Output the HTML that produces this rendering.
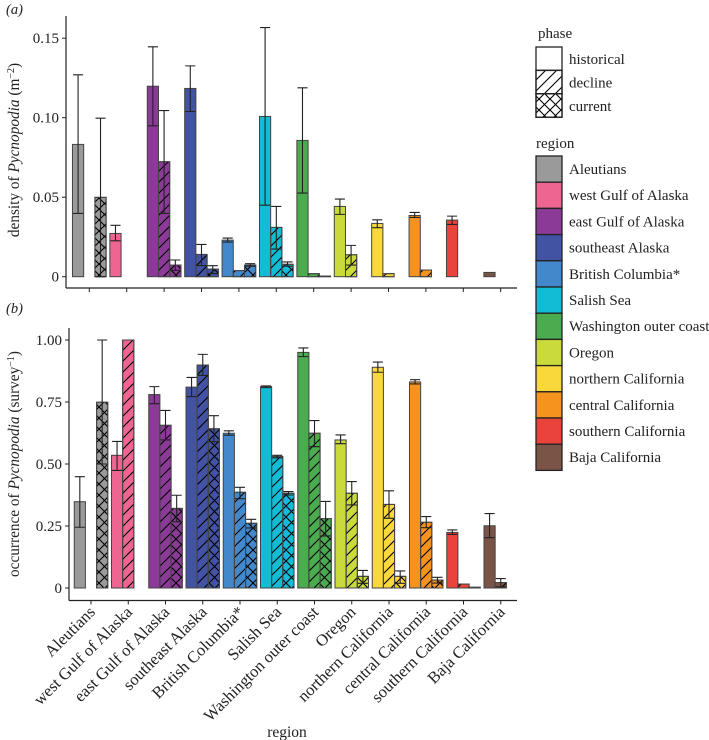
<!DOCTYPE html>
<html><head><meta charset="utf-8"><style>
html,body{margin:0;padding:0;background:#fff;}
svg{display:block;font-family:"Liberation Serif",serif;}
</style></head><body>
<svg id="chart" width="709" height="740" viewBox="0 0 709 740" xmlns="http://www.w3.org/2000/svg">
<defs>
<pattern id="hatchD" patternUnits="userSpaceOnUse" width="11" height="11">
<path d="M-2,13 L13,-2 M-2,2 L2,-2 M9,13 L13,9" stroke="#000" stroke-width="1.1" fill="none"/>
</pattern>
<pattern id="hatchX" patternUnits="userSpaceOnUse" width="11" height="11">
<path d="M-2,13 L13,-2 M-2,2 L2,-2 M9,13 L13,9 M-2,-2 L13,13 M-2,9 L2,13 M9,-2 L13,2" stroke="#000" stroke-width="1.1" fill="none"/>
</pattern>
</defs>
<g id="plot"></g>
</svg>
<script>
const regions=["Aleutians","west Gulf of Alaska","east Gulf of Alaska","southeast Alaska","British Columbia*","Salish Sea","Washington outer coast","Oregon","northern California","central California","southern California","Baja California"];
const colors=["#9a9a9a","#ee6592","#8b3a97","#4253a3","#4388cb","#12bcd4","#4bab4f","#c9da3a","#f9d83b","#f6931f","#e9433b","#7a5547"];
const phases=["historical","decline","current"];
// panel a: density
const densHist=[0.0832,0.0272,0.1198,0.1184,0.023,0.1008,0.0857,0.0442,0.0335,0.0385,0.0356,0.0027];
const densDecl=[null,null,0.0723,0.014,0.0038,0.031,0.0019,0.0138,0.0019,0.0042,0,0];
const densCurr=[0.0499,0,0.0073,0.0048,0.0073,0.0078,0.0004,0,0,0,0,0];
const densHistLo=[0.0398,0.0226,0.0949,0.1039,0.0218,0.045,0.0526,0.0392,0.0308,0.0373,0.0329,null];
const densHistHi=[0.127,0.0323,0.1446,0.1326,0.0243,0.1567,0.1188,0.0488,0.0358,0.0404,0.0381,null];
const densDeclLo=[null,null,0.0398,0.007,null,0.0174,null,0.0073,null,null,null,null];
const densDeclHi=[null,null,0.1045,0.0203,null,0.0442,null,0.0197,null,null,null,null];
const densCurrLo=[0.0,null,0.004,0.002,0.0066,0.0066,null,null,null,null,null,null];
const densCurrHi=[0.0997,null,0.0105,0.0069,0.0082,0.0093,null,null,null,null,null,null];
// panel b: occurrence
const occHist=[0.348,0.535,0.78,0.81,0.624,0.812,0.95,0.597,0.89,0.831,0.224,0.251];
const occDecl=[null,1.0,0.656,0.899,0.386,0.53,0.624,0.382,0.337,0.265,0.016,0.022];
const occCurr=[0.749,0,0.321,0.642,0.261,0.382,0.28,0.047,0.047,0.032,0.003,0];
const occHistLo=[0.245,0.474,0.743,0.772,0.616,0.808,0.933,0.582,0.87,0.823,0.216,0.203];
const occHistHi=[0.449,0.591,0.812,0.849,0.634,0.815,0.968,0.617,0.911,0.84,0.234,0.3];
const occDeclLo=[null,null,0.597,0.857,0.36,0.525,0.57,0.335,0.281,0.243,null,0.005];
const occDeclHi=[null,null,0.716,0.942,0.406,0.535,0.675,0.429,0.392,0.288,null,0.038];
const occCurrLo=[0.5,null,0.267,0.59,0.242,0.375,0.21,0.019,0.019,0.02,null,null];
const occCurrHi=[1.0,null,0.374,0.695,0.277,0.389,0.349,0.071,0.069,0.043,null,null];
const densTicks=[0,0.05,0.10,0.15];
const densTickLabels=["0","0.05","0.10","0.15"];
const occTicks=[0,0.25,0.5,0.75,1.0];
const occTickLabels=["0","0.25","0.50","0.75","1.00"];

const NS="http://www.w3.org/2000/svg";
const root=document.getElementById('plot');
function el(tag,attrs,parent){const e=document.createElementNS(NS,tag);for(const k in attrs)e.setAttribute(k,attrs[k]);(parent||root).appendChild(e);return e;}
const fills=["","url(#hatchD)","url(#hatchX)"];

function panel(cfg){
  const g=el('g',{});
  
  
  const band=cfg.band, bw=band*0.9/3;
  const xc=i=>cfg.x0+i*band;
  const y=v=>cfg.yZero-v*cfg.yScale;
  const ya=el('line',{x1:cfg.axX,x2:cfg.axX,y1:cfg.axTop,y2:cfg.axBot,stroke:'#222','stroke-width':1.2},g);
  
  
  const xa=el('line',{x1:cfg.axX,x2:517,y1:cfg.axBot,y2:cfg.axBot,stroke:'#222','stroke-width':1.2},g);
  
  
  cfg.ticks.forEach((t,k)=>{
    el('line',{x1:cfg.axX-4,x2:cfg.axX,y1:y(t),y2:y(t),stroke:'#222'},g);
    const tx=el('text',{x:cfg.axX-7,y:y(t)+5,'text-anchor':'end','font-size':15,fill:'#222'},g);
    tx.textContent=cfg.tickLabels[k];
    
    
  });
  regions.forEach((r,i)=>{
    el('line',{x1:xc(i),x2:xc(i),y1:cfg.axBot,y2:cfg.axBot+4,stroke:'#222'},g);
    const sets=[[cfg.h,cfg.hLo,cfg.hHi],[cfg.d,cfg.dLo,cfg.dHi],[cfg.c,cfg.cLo,cfg.cHi]];
    sets.forEach((s,p)=>{
      const v=s[0][i]; if(v===null)return;
      const x=xc(i)-1.5*bw+p*bw;
      const bar=el('rect',{x:x,y:y(v),width:bw,height:Math.max(0,y(0)-y(v)),fill:colors[i],stroke:'#444','stroke-width':1},g);
      
      
      if(p>0){const hb=el('rect',{x:x,y:y(v),width:bw,height:Math.max(0,y(0)-y(v)),fill:fills[p],stroke:'#444','stroke-width':1},g);
        
        }
      const lo=s[1][i],hi=s[2][i];
      if(lo!==null&&hi!==null){
        const cx=x+bw/2,cw=bw*0.45;
        const eb=el('path',{d:`M${cx},${y(lo)}L${cx},${y(hi)}M${cx-cw},${y(hi)}L${cx+cw},${y(hi)}M${cx-cw},${y(lo)}L${cx+cw},${y(lo)}`,stroke:'#222','stroke-width':1.1,fill:'none'},g);
        
        
      }
    });
  });
  const lab=el('text',{x:6,y:cfg.labY,'font-size':14.5,'font-style':'italic',fill:'#222'},g);
  lab.textContent='('+cfg.letter+')';
  
  
  const yt=el('text',{transform:`translate(${cfg.titleX},${cfg.titleY}) rotate(-90)`,'text-anchor':'middle','font-size':15.3,fill:'#222'},g);
  yt.innerHTML=cfg.title;
  
  
  return {xc};
}
panel({name:'panel-a-density',letter:'a',labY:14,x0:89.3,band:37.4,yZero:276.7,yScale:1590,axX:66,axTop:16,axBot:288,
  ticks:densTicks,tickLabels:densTickLabels,h:densHist,hLo:densHistLo,hHi:densHistHi,d:densDecl,dLo:densDeclLo,dHi:densDeclHi,c:densCurr,cLo:densCurrLo,cHi:densCurrHi,
  titleX:19,titleY:150,title:'density of <tspan font-style="italic">Pycnopodia</tspan> (m<tspan font-size="10" dy="-5">−2</tspan><tspan dy="5">)</tspan>'});
const pb=panel({name:'panel-b-occurrence',letter:'b',labY:313,x0:91,band:37.25,yZero:588,yScale:248,axX:69,axTop:328,axBot:600.5,
  ticks:occTicks,tickLabels:occTickLabels,h:occHist,hLo:occHistLo,hHi:occHistHi,d:occDecl,dLo:occDeclLo,dHi:occDeclHi,c:occCurr,cLo:occCurrLo,cHi:occCurrHi,
  titleX:19,titleY:464,title:'occurrence of <tspan font-style="italic">Pycnopodia</tspan> (survey<tspan font-size="10" dy="-5">−1</tspan><tspan dy="5">)</tspan>'});
regions.forEach((r,i)=>{
  const t=el('text',{transform:`translate(${pb.xc(i)+5},${613}) rotate(-45)`,'text-anchor':'end','font-size':16.5,fill:'#222'});
  t.textContent=r;
  
  
});
const xt=el('text',{x:287,y:737,'text-anchor':'middle','font-size':15.5,fill:'#222'});
xt.textContent='region';


const lg=el('g',{});


const pt=el('text',{x:538,y:38,'font-size':15,fill:'#222'},lg);pt.textContent='phase';
phases.forEach((p,k)=>{
  const yy=47+k*23.4;
  const r=el('rect',{x:536,y:yy,width:26,height:23.4,fill:'#fff',stroke:'#222','stroke-width':1.3},lg);
  
  
  if(k>0)el('rect',{x:536,y:yy,width:26,height:23.4,fill:fills[k],stroke:'#222','stroke-width':1.3},lg);
  const t=el('text',{x:569,y:yy+17,'font-size':15,fill:'#222'},lg);t.textContent=p;
  
  
});
const rt=el('text',{x:536,y:148,'font-size':15,fill:'#222'},lg);rt.textContent='region';
regions.forEach((r,i)=>{
  const yy=156+i*26.2;
  const k=el('rect',{x:536,y:yy,width:26,height:26.2,fill:colors[i],stroke:'#222','stroke-width':1.3},lg);
  
  
  const t=el('text',{x:569,y:yy+18,'font-size':15,fill:'#222'},lg);t.textContent=r;
  
  
});
</script>
</body></html>
